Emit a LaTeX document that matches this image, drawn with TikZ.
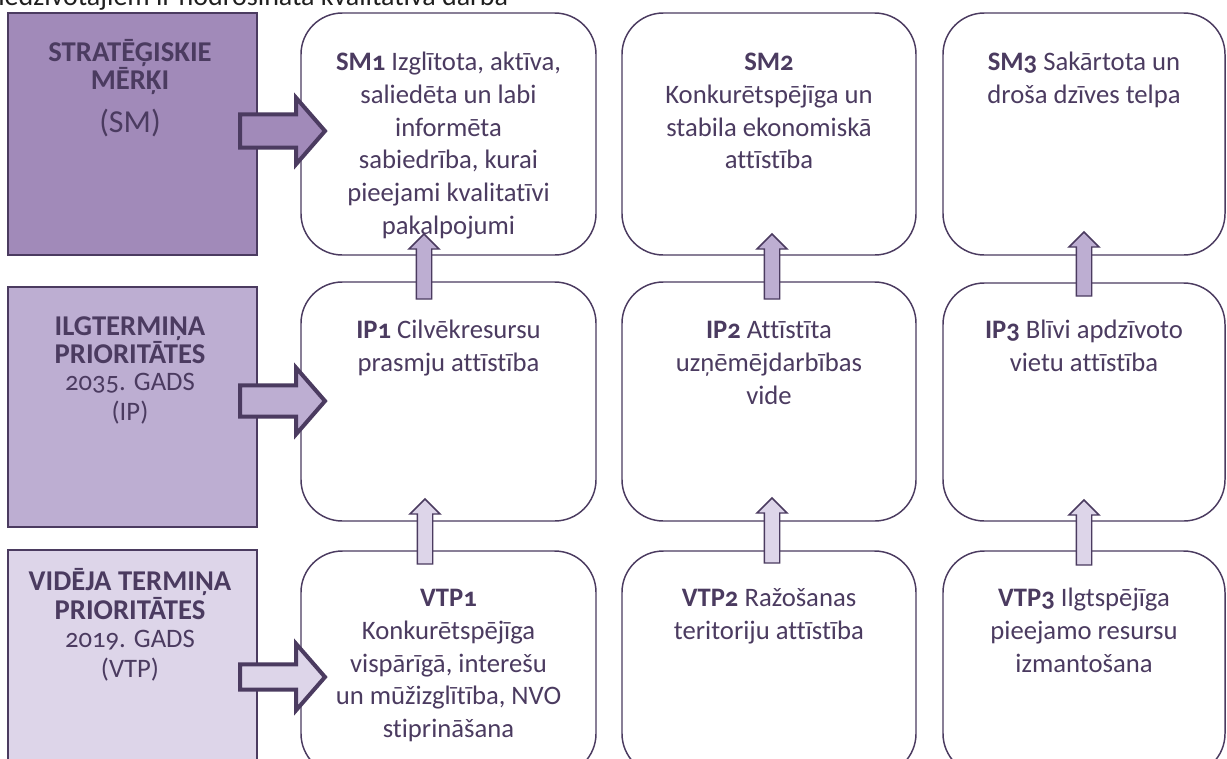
\documentclass[tikz,border=0pt]{standalone}
\usepackage{fontspec}
\setmainfont{Carlito}[Numbers=OldStyle, Ligatures={NoCommon,NoContextual}, Contextuals=NoAlternate]
\newfontfamily\plainfont{Carlito}[Ligatures={NoCommon,NoContextual}, Contextuals=NoAlternate]
\usetikzlibrary{calc,fit}
\definecolor{dk}{HTML}{4B3B60}
\definecolor{smfill}{HTML}{A18AB9}
\definecolor{ipfill}{HTML}{BDAED2}
\definecolor{vtpfill}{HTML}{DDD5E9}
\definecolor{toptext}{HTML}{1F1F1F}
\tikzset{
  roundbox/.style={draw=dk, line width=1.1pt, rounded corners=31pt, inner sep=0pt},
  levelbox/.style={draw=dk, line width=1.1pt, inner sep=0pt},
  txt/.style={text=dk, align=center, inner sep=0pt, font=\fontsize{20}{24.6}\selectfont},
  headtxt/.style={text=dk, align=center, inner sep=0pt, font=\fontsize{21.5}{20.4}\selectfont\bfseries},
  subtxt/.style={text=dk, align=center, inner sep=0pt, font=\fontsize{20}{22}\selectfont},
  blockarr/.style={draw=dk, line width=3pt, line join=miter},
  uparr/.style={draw=dk, line width=1.1pt, line join=miter},
}
% up block arrow: #1 tip, #2 bottom, #3 fill
\newcommand\blockup[3]{%
  \draw[uparr, fill=#3] let \p1=(#1), \p2=(#2) in
    (\x1-5.8pt,\y2) -- (\x1-5.8pt,\y1-11.25pt) -- (\x1-11.25pt,\y1-11.25pt) --
    (\x1,\y1) -- (\x1+11.25pt,\y1-11.25pt) -- (\x1+5.8pt,\y1-11.25pt) --
    (\x1+5.8pt,\y2) -- cycle;}
% right block arrow: #1 start, #2 tip, #3 fill, #4 shaft half width, #5 head half width
\newcommand\blockright[5]{%
  \draw[blockarr, fill=#3] let \p1=(#1), \p2=(#2) in
    (\x1,\y2+#4) -- (\x2-21.75pt,\y2+#4) -- (\x2-21.75pt,\y2+#5) -- (\x2,\y2) --
    (\x2-21.75pt,\y2-#5) -- (\x2-21.75pt,\y2-#4) -- (\x1,\y2-#4) -- cycle;}
\begin{document}
\begin{tikzpicture}[x=0.75pt,y=-0.75pt]
\useasboundingbox (0,0) rectangle (1227,758);
\clip (0,0) rectangle (1227,758);
\fill[white] (0,0) rectangle (1227,758);

% cut-off line of text above
\node[anchor=base west, inner sep=0pt, text=toptext, font=\plainfont\fontsize{21}{24}\selectfont] (topline) at (-2,5.5) {iedzīvotājiem ir nodrošināta kvalitatīva darba};

% level boxes
\node[levelbox, fill=smfill, fit={(8,13) (257,255)}] (smlvl) {};
\node[levelbox, fill=ipfill, fit={(8,287) (257,527)}] (iplvl) {};
\node[levelbox, fill=vtpfill, fit={(8,550) (257,790)}] (vtplvl) {};

\node[headtxt, anchor=center] (smh) at (130,67) {STRATĒĢISKIE\\MĒRĶI};
\node[subtxt, anchor=center, font=\fontsize{24}{26}\selectfont] (sms) at (130,123) {(SM)};
\node[headtxt, anchor=center] (iph) at (130,340) {ILGTERMIŅA\\PRIORITĀTES};
\node[subtxt, anchor=center] (ipy) at (130,383) {2035. GADS};
\node[subtxt, anchor=center] (ips) at (130,413) {(IP)};
\node[headtxt, anchor=center] (vtph) at (130,594) {VIDĒJA TERMIŅA\\PRIORITĀTES};
\node[subtxt, anchor=center] (vtpy) at (130,640) {2019. GADS};
\node[subtxt, anchor=center] (vtps) at (130,670) {(VTP)};

% rounded boxes
\node[roundbox, fit={(301,13) (596,255)}] (sm1) {};
\node[roundbox, fit={(622,13) (916,255)}] (sm2) {};
\node[roundbox, fit={(943,13) (1225,255)}] (sm3) {};
\node[roundbox, fit={(301,282) (596,521)}] (ip1) {};
\node[roundbox, fit={(622,282) (916,521)}] (ip2) {};
\node[roundbox, fit={(943,283) (1225,521)}] (ip3) {};
\node[roundbox, fit={(301,551) (596,775)}] (vtp1) {};
\node[roundbox, fit={(622,551) (916,775)}] (vtp2) {};
\node[roundbox, fit={(943,551) (1225,775)}] (vtp3) {};

% texts
\node[txt, anchor=north] (sm1t) at ($(sm1.north)+(0,35)$) {\strut\textbf{SM1} Izglītota, aktīva,\\saliedēta un labi\\informēta\\sabiedrība, kurai\\pieejami kvalitatīvi\\pakalpojumi};
\node[txt, anchor=north] (sm2t) at ($(sm2.north)+(0,35)$) {\strut\textbf{SM2}\\Konkurētspējīga un\\stabila ekonomiskā\\attīstība};
\node[txt, anchor=north] (sm3t) at ($(sm3.north)+(0,35)$) {\strut\textbf{SM3} Sakārtota un\\droša dzīves telpa};
\node[txt, anchor=north] (ip1t) at ($(ip1.north)+(0,34)$) {\strut\textbf{IP1} Cilvēkresursu\\prasmju attīstība};
\node[txt, anchor=north] (ip2t) at ($(ip2.north)+(0,34)$) {\strut\textbf{IP2} Attīstīta\\uzņēmējdarbības\\vide};
\node[txt, anchor=north] (ip3t) at ($(ip3.north)+(0,33)$) {\strut\textbf{IP3} Blīvi apdzīvoto\\vietu attīstība};
\node[txt, anchor=north] (vtp1t) at ($(vtp1.north)+(0,33)$) {\strut\textbf{VTP1}\\Konkurētspējīga\\vispārīgā, interešu\\un mūžizglītība, NVO\\stiprināšana};
\node[txt, anchor=north] (vtp2t) at ($(vtp2.north)+(0,33)$) {\strut\textbf{VTP2} Ražošanas\\teritoriju attīstība};
\node[txt, anchor=north] (vtp3t) at ($(vtp3.north)+(0,33)$) {\strut\textbf{VTP3} Ilgtspējīga\\pieejamo resursu\\izmantošana};

% connector end points
\coordinate (u1t) at (424,234); \coordinate (u1b) at (424,299);
\coordinate (u2t) at (772,234); \coordinate (u2b) at (772,299);
\coordinate (u3t) at (1084,232); \coordinate (u3b) at (1084,296);
\coordinate (l1t) at (425,499); \coordinate (l1b) at (425,564);
\coordinate (l2t) at (772,498); \coordinate (l2b) at (772,563);
\coordinate (l3t) at (1084,500); \coordinate (l3b) at (1084,565);

\blockup{u1t}{u1b}{ipfill}
\blockup{u2t}{u2b}{ipfill}
\blockup{u3t}{u3b}{ipfill}
\blockup{l1t}{l1b}{vtpfill}
\blockup{l2t}{l2b}{vtpfill}
\blockup{l3t}{l3b}{vtpfill}

\coordinate (a1s) at (240,131); \coordinate (a1t) at (325,131);
\coordinate (a2s) at (240,401); \coordinate (a2t) at (325,401);
\coordinate (a3s) at (240,677); \coordinate (a3t) at (325,677);
\blockright{a1s}{a1t}{smfill}{12.5pt}{25pt}
\blockright{a2s}{a2t}{ipfill}{11.8pt}{25pt}
\blockright{a3s}{a3t}{vtpfill}{9.4pt}{25pt}
\end{tikzpicture}
\end{document}
